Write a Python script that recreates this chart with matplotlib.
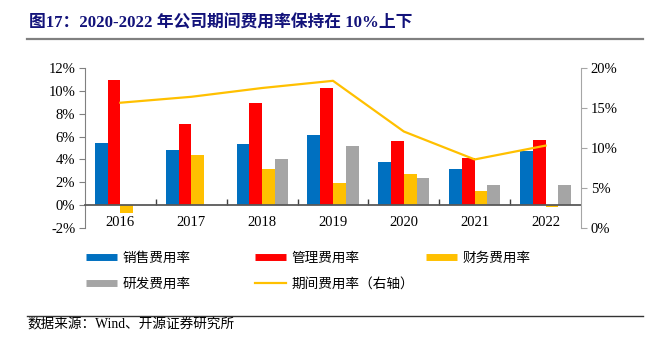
import matplotlib
matplotlib.use("Agg")
import matplotlib.pyplot as plt
import numpy as np
from matplotlib.lines import Line2D
from matplotlib.ticker import FuncFormatter

years = ['2016', '2017', '2018', '2019', '2020', '2021', '2022']
sales = [5.47, 4.82, 5.32, 6.14, 3.75, 3.20, 4.77]      # 销售费用率
admin = [10.96, 7.10, 8.92, 10.24, 5.61, 4.10, 5.70]    # 管理费用率
finance = [-0.73, 4.39, 3.13, 1.90, 2.72, 1.25, -0.15]  # 财务费用率
rnd = [0.0, 0.0, 4.03, 5.18, 2.37, 1.75, 1.75]          # 研发费用率
period = [15.66, 16.4, 17.5, 18.4, 12.06, 8.57, 10.3]   # 期间费用率（右轴）

names = ['销售费用率', '管理费用率', '财务费用率', '研发费用率', '期间费用率（右轴）']
colors = ['#0070C0', '#FF0000', '#FFC000', '#A5A5A5']
line_color = '#FFC000'

num_font = ['Liberation Serif', 'Noto Sans CJK SC']
cjk_font = ['Noto Sans CJK SC', 'Liberation Serif']

fig = plt.figure(figsize=(6.52, 3.43), dpi=100)
ax = fig.add_axes([85/652, 1-228/343, 496/652, 160/343])
ax2 = ax.twinx()

x = np.arange(len(years))
w = 0.18
series = [sales, admin, finance, rnd]
for i, vals in enumerate(series):
    ax.bar(x + (i - 1.5)*w, vals, width=w, color=colors[i], zorder=2)

ax2.plot(x, period, color=line_color, lw=1.6, zorder=3)

ax.set_xlim(-0.5, len(years) - 0.5)
ax.set_ylim(-2, 12)
ax.set_yticks(np.arange(-2, 13, 2))
ax.yaxis.set_major_formatter(FuncFormatter(lambda v, p: '%d%%' % v))
ax2.set_ylim(0, 20)
ax2.set_yticks(np.arange(0, 21, 5))
ax2.yaxis.set_major_formatter(FuncFormatter(lambda v, p: '%d%%' % v))

ax.set_xticks(x)
ax.set_xticklabels(years)
ax.set_xticks(np.arange(0.5, len(years) - 1, 1), minor=True)
ax.tick_params(axis='x', which='major', length=0, pad=8)
ax.tick_params(axis='x', which='minor', direction='in', length=4, color='#404040', width=1)

ax.spines['bottom'].set_position(('data', 0))
ax.spines['bottom'].set_color('#595959')
ax.spines['bottom'].set_linewidth(1.3)
ax.spines['top'].set_visible(False)
ax.spines['right'].set_visible(False)
ax.spines['left'].set_color('#808080')
ax2.spines['top'].set_visible(False)
ax2.spines['left'].set_visible(False)
ax2.spines['bottom'].set_visible(False)
ax2.spines['right'].set_color('#a6a6a6')
ax.tick_params(axis='y', length=4, color='#808080', pad=3)
ax2.tick_params(axis='y', length=4, color='#a6a6a6', pad=3)

for lab in ax.get_xticklabels() + ax.get_yticklabels() + ax2.get_yticklabels():
    lab.set_fontfamily(num_font)
    lab.set_fontsize(10.5)
    lab.set_color('black')

# legend, placed entry by entry
handles = [Line2D([0], [0], color=c, lw=5, solid_capstyle='butt') for c in colors]
handles.append(Line2D([0], [0], color=line_color, lw=1.6))
spots = [(86/652, 1-258/343), (255/652, 1-258/343), (426/652, 1-258/343),
         (86/652, 1-284/343), (255/652, 1-284/343)]
for h, n, (lx, ly) in zip(handles, names, spots):
    fig.legend([h], [n], loc='center left', bbox_to_anchor=(lx, ly), frameon=False,
               borderpad=0, borderaxespad=0, handlelength=2.28, handletextpad=0.37,
               prop={'family': cjk_font, 'size': 9.8})

fig.text(29/652, 1-23/343, '图17：2020-2022 年公司期间费用率保持在 10%上下',
         fontsize=12.1, fontweight='bold', color='#12127a', family=num_font,
         va='center', ha='left')
fig.add_artist(Line2D([27/652, 643/652], [1-39/343, 1-39/343], color='#808080', lw=1.6))
fig.add_artist(Line2D([27/652, 643/652], [1-316/343, 1-316/343], color='#333333', lw=1.0))
fig.text(27/652, 1-325/343, '数据来源：Wind、开源证券研究所', fontsize=9.8,
         family=num_font, va='center', ha='left', color='black')

fig.savefig('out.png', dpi=100)
